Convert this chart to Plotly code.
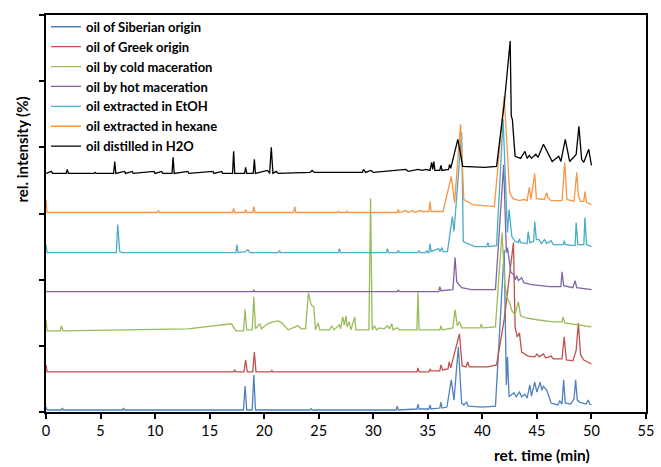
import plotly.graph_objects as go

NAMES = ["oil of Siberian origin", "oil of Greek origin", "oil by cold maceration",
         "oil by hot maceration", "oil extracted in EtOH", "oil extracted in hexane",
         "oil distilled in H2O"]
COLORS = ["#4F81BD", "#C0504D", "#9BBB59", "#8064A2", "#4BACC6", "#F79646", "#000000"]
# vertical stacking offset of each chromatogram (axis units)
OFFSETS = [0.03, 0.606, 1.227, 1.818, 2.409, 3.015, 3.606]
X_TICKS = [0, 5, 10, 15, 20, 25, 30, 35, 40, 45, 50, 55]

# (ret. time in min, rel. intensity above baseline)
SIBERIAN = [(0, 0.045), (0.1, 0), (1.4, 0), (1.5, 0.03), (1.6, 0), (7.0, 0), (7.1, 0.03), (7.2, 0),
            (18.1, 0), (18.25, 0.364), (18.4, 0), (18.9, 0), (19.05, 0.53), (19.2, 0),
            (24.2, 0), (24.3, 0.02), (24.4, 0), (32.1, 0), (32.2, 0.06), (32.3, 0),
            (34.0, 0.015), (34.1, 0.09), (34.2, 0.015), (35.1, 0.015), (35.2, 0.076), (35.3, 0.015),
            (36.1, 0.03), (36.2, 0.12), (36.3, 0.03), (36.75, 0.045), (37.15, 0.455), (37.4, 0.15),
            (37.8, 0.955), (38.1, 0.106), (38.3, 0.076), (38.55, 0.12), (38.7, 0.06), (40.0, 0.045),
            (41.2, 0.06), (42.0, 2.42), (42.2, 0.38), (42.3, 0.80), (42.45, 0.2), (42.9, 0.26),
            (43.1, 0.2), (43.4, 0.27), (43.6, 0.2), (43.9, 0.24), (44.1, 0.18), (44.35, 0.38),
            (44.5, 0.21), (44.8, 0.42), (45.0, 0.27), (45.3, 0.42), (45.45, 0.30), (45.6, 0.36),
            (45.9, 0.30), (46.3, 0.106), (46.9, 0.076), (47.1, 0.136), (47.3, 0.09), (47.45, 0.455),
            (47.6, 0.106), (48.1, 0.09), (48.4, 0.167), (48.55, 0.455), (48.7, 0.15), (48.9, 0.12),
            (49.5, 0.09), (49.7, 0.15), (49.85, 0.09), (50.0, 0.076)]

GREEK = [(0, 0.106), (0.1, 0), (17.2, 0), (17.3, 0.03), (17.4, 0), (18.15, 0), (18.3, 0.18), (18.45, 0),
         (18.95, 0), (19.1, 0.30), (19.25, 0), (20.6, 0), (20.7, 0.02), (20.8, 0),
         (34.0, 0), (34.1, 0.06), (34.2, 0), (35.1, 0), (35.2, 0.045), (35.3, 0.015),
         (36.1, 0.015), (36.2, 0.106), (36.35, 0.03), (36.85, 0.045), (36.95, 0.15), (37.1, 0.06),
         (37.9, 0.576), (38.15, 0.09), (38.5, 0.076), (38.65, 0.15), (38.8, 0.076), (40.5, 0.076),
         (41.3, 0.106), (42.0, 0.79), (42.85, 1.955), (43.0, 0.68), (43.2, 0.53), (43.4, 0.59),
         (43.6, 0.30), (43.9, 0.27), (44.2, 0.24), (44.8, 0.227), (45.0, 0.27), (45.2, 0.227),
         (45.6, 0.27), (45.8, 0.21), (46.3, 0.24), (46.5, 0.197), (47.3, 0.197), (47.5, 0.53),
         (47.7, 0.18), (48.3, 0.167), (48.6, 0.33), (48.8, 0.74), (49.0, 0.26), (49.3, 0.18),
         (50.0, 0.12)]

COLD = [(0, 0.167), (0.1, 0), (1.3, 0), (1.4, 0.076), (1.55, 0), (7.0, 0.015), (13.0, 0.03),
        (17.0, 0.106), (17.4, 0), (18.1, 0), (18.25, 0.32), (18.4, 0.015), (18.9, 0.015),
        (19.05, 0.515), (19.2, 0.03), (19.6, 0.106), (19.75, 0.03), (20.3, 0.106), (20.8, 0.136),
        (21.3, 0.15), (21.6, 0.12), (22.2, 0.015), (23.1, 0.076), (23.4, 0.03), (23.8, 0.03),
        (24.05, 0.576), (24.3, 0.394), (24.55, 0.364), (24.7, 0.015), (24.95, 0.12), (25.1, 0.015),
        (26.0, 0.015), (26.2, 0.076), (26.4, 0.015), (26.9, 0.09), (27.0, 0.03), (27.2, 0.21),
        (27.35, 0.09), (27.5, 0.227), (27.6, 0.06), (27.8, 0.136), (27.95, 0.015), (28.3, 0.21),
        (28.4, 0.015), (29.6, 0.015), (29.75, 2.0), (29.9, 0.015), (30.1, 0.076), (30.3, 0.015),
        (30.6, 0.045), (31.0, 0.03), (31.3, 0.076), (31.5, 0.03), (31.7, 0.106), (31.8, 0.015),
        (32.2, 0.045), (32.4, 0.015), (34.0, 0.015), (34.1, 0.59), (34.2, 0.015), (36.1, 0.015),
        (36.2, 0.076), (36.3, 0.015), (37.3, 0.045), (37.5, 0.32), (37.7, 0.076), (37.9, 0.136),
        (38.1, 0.045), (39.8, 0.045), (39.9, 0.106), (40.0, 0.045), (41.2, 0.06), (41.8, 1.485),
        (42.05, 0.727), (42.25, 0.5), (42.5, 0.424), (42.7, 0.303), (43.0, 0.242), (43.3, 0.44),
        (43.5, 0.227), (44.0, 0.197), (45.0, 0.167), (46.5, 0.136), (47.3, 0.136), (47.4, 0.21),
        (47.55, 0.12), (50.0, 0.06)]

HOT = [(0, 0), (19.0, 0), (19.05, 0.03), (19.1, 0), (32.2, 0), (32.3, 0.03), (32.4, 0),
       (36.0, 0), (36.1, 0.076), (36.2, 0.015), (37.3, 0.03), (37.5, 0.515), (37.65, 0.15),
       (38.1, 0.06), (39.0, 0.03), (41.2, 0.03), (41.95, 1.92), (42.2, 0.59), (42.3, 0.667),
       (42.6, 0.30), (42.85, 0.26), (43.0, 0.18), (43.15, 0.24), (43.3, 0.167), (43.6, 0.21),
       (43.8, 0.136), (44.5, 0.106), (46.2, 0.076), (47.2, 0.076), (47.3, 0.30), (47.45, 0.09),
       (48.3, 0.06), (48.5, 0.167), (48.65, 0.06), (50.0, 0.03)]

ETOH = [(0, 0.12), (0.1, 0), (6.45, 0), (6.58, 0.424), (6.75, 0.015), (7.0, 0), (17.4, 0),
        (17.5, 0.12), (17.6, 0), (18.3, 0.015), (18.5, 0.045), (18.7, 0), (21.3, 0), (21.4, 0.03),
        (21.5, 0), (26.8, 0), (26.9, 0.06), (27.0, 0), (31.2, 0), (31.3, 0.06), (31.4, 0),
        (32.2, 0), (32.3, 0.03), (32.4, 0), (34.1, 0), (34.2, 0.03), (34.3, 0), (34.8, 0),
        (34.9, 0.03), (35.0, 0), (35.1, 0), (35.2, 0.136), (35.3, 0.015), (36.0, 0.06),
        (36.1, 0.015), (36.3, 0.076), (36.4, 0.015), (36.8, 0.015), (37.25, 0.545), (37.4, 0.318),
        (38.1, 1.82), (38.25, 0.167), (39.3, 0.09), (40.4, 0.09), (40.5, 0.15), (40.6, 0.09),
        (41.3, 0.106), (41.9, 2.015), (42.3, 0.303), (42.45, 0.65), (42.7, 0.242), (43.0, 0.167),
        (43.3, 0.15), (43.4, 0.21), (43.5, 0.15), (44.1, 0.136), (44.2, 0.318), (44.35, 0.15),
        (44.7, 0.167), (44.8, 0.47), (44.95, 0.197), (45.2, 0.197), (45.4, 0.136), (45.7, 0.197),
        (45.9, 0.136), (46.3, 0.18), (46.5, 0.12), (47.4, 0.12), (47.5, 0.18), (47.6, 0.12),
        (48.5, 0.106), (48.6, 0.455), (48.75, 0.12), (49.3, 0.12), (49.4, 0.53), (49.55, 0.12),
        (50.0, 0.09)]

HEXANE = [(0, 0.197), (0.1, 0), (10.2, 0), (10.3, 0.03), (10.4, 0), (17.1, 0), (17.2, 0.06),
          (17.3, 0), (18.2, 0), (18.3, 0.045), (18.4, 0), (18.95, 0), (19.05, 0.09), (19.15, 0),
          (22.7, 0), (22.8, 0.09), (22.9, 0), (26.7, 0), (26.8, 0.02), (26.9, 0), (27.5, 0),
          (27.6, 0.02), (27.7, 0), (32.2, 0), (32.3, 0.045), (32.4, 0), (33.0, 0.03), (33.2, 0),
          (33.6, 0.03), (33.8, 0), (34.3, 0.03), (34.5, 0.015), (35.1, 0.015), (35.2, 0.167),
          (35.3, 0.015), (36.4, 0.015), (37.15, 0.545), (37.45, 0.15), (38.0, 1.333), (38.3, 0.197),
          (39.1, 0.12), (41.1, 0.09), (42.0, 1.758), (42.5, 0.30), (42.8, 0.21), (43.4, 0.18),
          (43.8, 0.197), (44.1, 0.18), (44.3, 0.38), (44.45, 0.197), (44.8, 0.59), (44.95, 0.21),
          (45.7, 0.197), (45.9, 0.30), (46.0, 0.227), (46.3, 0.18), (47.3, 0.18), (47.55, 0.758),
          (47.75, 0.197), (48.4, 0.167), (48.65, 0.606), (48.8, 0.258), (49.0, 0.167), (49.3, 0.167),
          (49.4, 0.318), (49.55, 0.15), (50.0, 0.12)]

H2O = [(0, 0), (0.5, 0.03), (0.6, 0), (1.85, 0), (1.95, 0.06), (2.05, 0), (4.4, 0), (4.5, 0.015),
       (4.6, 0), (6.2, 0), (6.3, 0.18), (6.4, 0), (7.2, 0.03), (7.3, 0), (7.9, 0.03), (8.0, 0),
       (9.9, 0.03), (10.0, 0), (10.6, 0.03), (10.7, 0), (11.55, 0), (11.65, 0.242), (11.75, 0),
       (13.0, 0.03), (13.1, 0), (14.5, 0.015), (15.3, 0.03), (15.4, 0), (16.1, 0.03), (16.2, 0),
       (17.1, 0), (17.2, 0.333), (17.3, 0), (18.2, 0), (18.3, 0.09), (18.4, 0), (19.0, 0),
       (19.1, 0.212), (19.2, 0), (20.3, 0.045), (20.5, 0), (20.65, 0.394), (20.8, 0), (21.1, 0.03),
       (21.3, 0), (24.2, 0.015), (24.4, 0.045), (24.6, 0.015), (29.0, 0.015), (29.1, 0.06),
       (29.3, 0.015), (29.8, 0.045), (30.0, 0.015), (33.0, 0.06), (33.2, 0.03), (34.1, 0.06),
       (34.5, 0.045), (34.8, 0.06), (35.2, 0.045), (35.35, 0.167), (35.45, 0.06), (35.55, 0.18),
       (35.65, 0.045), (36.1, 0.045), (36.2, 0.12), (36.3, 0.045), (36.9, 0.06), (37.0, 0.136),
       (37.1, 0.076), (37.75, 0.515), (38.2, 0.106), (40.2, 0.09), (41.3, 0.106), (42.0, 1.045),
       (42.55, 2.0), (42.65, 0.864), (42.75, 0.818), (43.0, 0.258), (43.5, 0.227), (43.9, 0.333),
       (44.1, 0.227), (44.3, 0.273), (44.5, 0.227), (44.9, 0.288), (45.1, 0.242), (45.6, 0.44),
       (46.4, 0.18), (47.0, 0.258), (47.2, 0.18), (47.6, 0.515), (48.0, 0.18), (48.6, 0.288),
       (48.85, 0.712), (49.1, 0.212), (49.3, 0.167), (49.75, 0.364), (50.0, 0.12)]

SERIES = [SIBERIAN, GREEK, COLD, HOT, ETOH, HEXANE, H2O]

FONT = "Lato"

fig = go.Figure()
for name, color, off, data in zip(NAMES, COLORS, OFFSETS, SERIES):
    fig.add_trace(go.Scatter(
        x=[p[0] for p in data],
        y=[p[1] + off for p in data],
        mode="lines", name=name,
        line=dict(color=color, width=1.3),
    ))

axis_common = dict(showgrid=False, zeroline=False, showline=True, linecolor="black",
                   linewidth=1.5, mirror=True, ticks="outside", ticklen=5,
                   tickcolor="black", tickwidth=1.5)

fig.update_layout(
    width=661, height=467,
    margin=dict(l=46, r=7, t=15, b=55),
    paper_bgcolor="white", plot_bgcolor="white",
    font=dict(family=FONT, color="black"),
    xaxis=dict(range=[0, 55], tickvals=X_TICKS, tickfont=dict(size=14.5, family=FONT),
               **axis_common),
    yaxis=dict(range=[0, 6], dtick=1, showticklabels=False, **axis_common),
    legend=dict(x=0.0, y=1.008, xanchor="left", yanchor="top",
                bgcolor="rgba(0,0,0,0)", itemwidth=30,
                font=dict(size=13, family=FONT, weight="bold")),
    showlegend=True,
    annotations=[
        dict(text="ret. time (min)", xref="paper", yref="paper",
             x=0.827, y=-0.108, showarrow=False, xanchor="center", yanchor="middle",
             font=dict(size=15.5, family=FONT, weight="bold")),
        dict(text="rel. intensity (%)", xref="paper", yref="paper",
             x=-0.0395, y=0.662, showarrow=False, textangle=-90,
             xanchor="center", yanchor="middle", width=160, align="center",
             font=dict(size=15, family=FONT, weight="bold")),
    ],
)

fig.write_html("out.html")
